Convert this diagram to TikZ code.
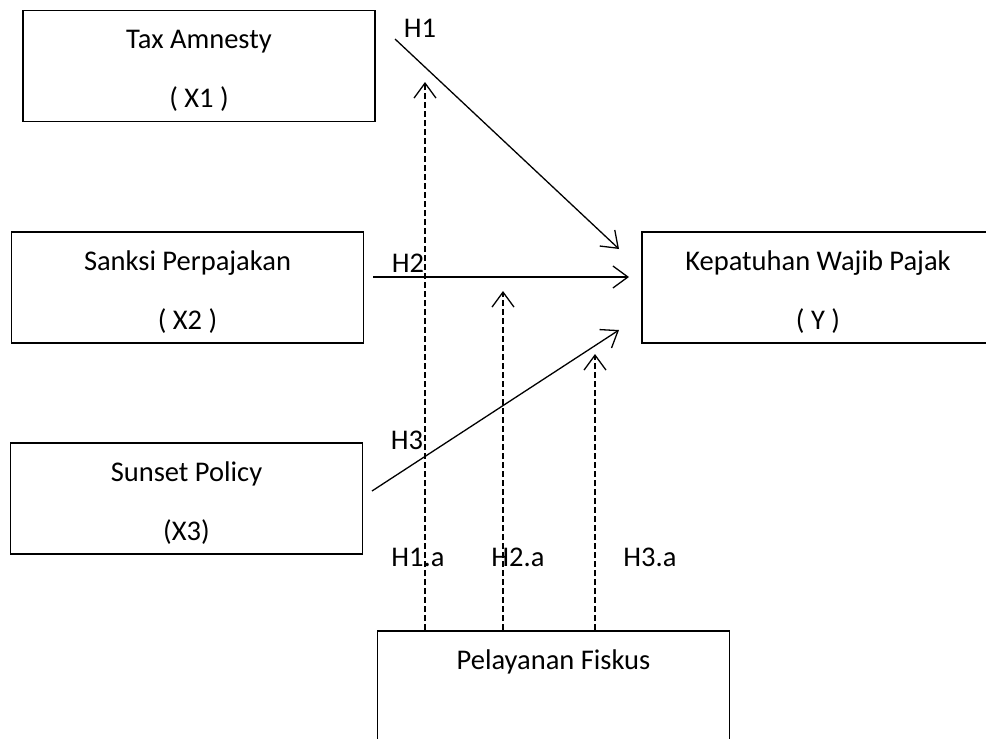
\documentclass[tikz,border=0pt]{standalone}
\usepackage{fontspec}
\setmainfont{Carlito}
\usetikzlibrary{arrows.meta}

\begin{document}
\begin{tikzpicture}[x=1pt, y=-1pt,
  var/.style={draw, line width=1.8pt, minimum width=352pt, minimum height=111pt, align=center, inner sep=0pt, text height=90pt, text depth=7pt, font=\fontsize{28.5}{59}\selectfont},
  lbl/.style={inner sep=0pt, font=\fontsize{28.5}{34}\selectfont},
  hyp/.style={-{Straight Barb[length=15pt,width=22pt]}, line width=1.3pt},
  mod/.style={hyp, dash pattern=on 6pt off 3pt}]
\useasboundingbox (0,0) rectangle (986,739);
\clip (0,0) rectangle (986,739);
\node[var] (x1) at (199,66) {Tax Amnesty\\( X1 )};
\node[var] (x2) at (187.5,287.5) {Sanksi Perpajakan\\( X2 )};
\node[var] (x3) at (186.5,498.5) {Sunset Policy\\(X3)};
\node[var] (y) at (818,287.5) {Kepatuhan Wajib Pajak\\( Y )};
\node[var] (z) at (553.5,686.5) {Pelayanan Fiskus\\\phantom{(X)}};
\coordinate (h1s) at (395,39);
\coordinate (h1e) at (619,249);
\coordinate (h2s) at (373,277);
\coordinate (h2e) at (629,277);
\coordinate (h3s) at (372,491);
\coordinate (h3e) at (619,330);
\coordinate (m1) at (425,82);
\coordinate (m2) at (503,291);
\coordinate (m3) at (595,354);
\draw[hyp] (h1s) -- (h1e);
\draw[hyp] (h2s) -- (h2e);
\draw[hyp] (h3s) -- (h3e);
\draw[mod] (m1 |- z.north) -- (m1);
\draw[mod] (m2 |- z.north) -- (m2);
\draw[mod] (m3 |- z.north) -- (m3);
\node[lbl] (lh1) at (420,28) {H1};
\node[lbl] (lh2) at (408,263) {H2};
\node[lbl] (lh3) at (407,440) {H3};
\node[lbl] (lm1) at (418,557) {H1.a};
\node[lbl] (lm2) at (518,557) {H2.a};
\node[lbl] (lm3) at (650,557) {H3.a};
\end{tikzpicture}
\end{document}
